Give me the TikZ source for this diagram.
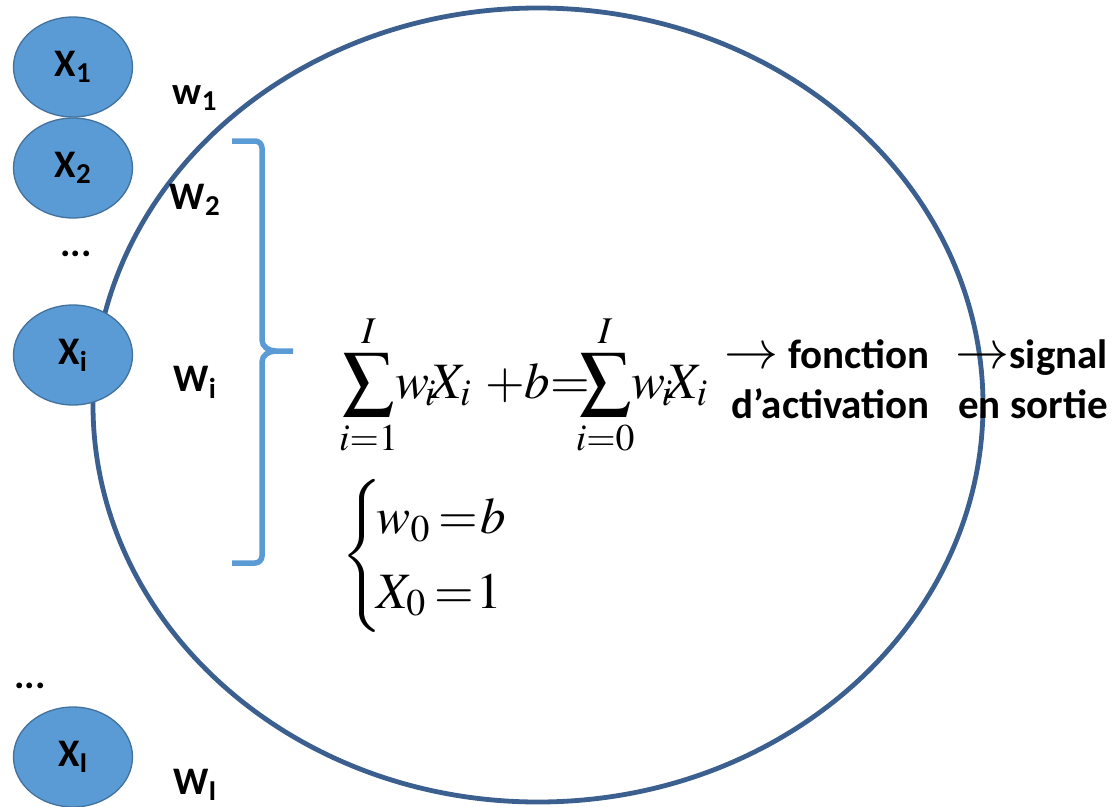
\documentclass[tikz,border=0pt]{standalone}
\usepackage{mathptmx}
\usepackage{amsmath}
\usepackage[no-math]{fontspec}
\setmainfont{Carlito}
\usepackage{tikz}
\usetikzlibrary{positioning, shapes.geometric}
\definecolor{nBody}{HTML}{3B5F8E}
\definecolor{nIn}{HTML}{5B9BD5}
\definecolor{nInLine}{HTML}{41719C}
\newcommand{\bigarr}{{\fontsize{54}{50}\selectfont$\rightarrow$}}

\begin{document}
\begin{tikzpicture}[x=1pt, y=-1pt,
  inbox/.style={ellipse, draw=nInLine, fill=nIn, line width=1.3pt, minimum width=119pt, minimum height=100pt, inner sep=0pt, font=\fontsize{39}{42}\selectfont\bfseries},
  wlab/.style={font=\fontsize{39}{42}\selectfont\bfseries},
  btxt/.style={font=\fontsize{41}{50}\selectfont\bfseries, inner sep=0pt, anchor=base east}]
  \useasboundingbox (0,0) rectangle (1113,806);
  % neuron body
  \node[ellipse, draw=nBody, line width=4.8pt, minimum width=890pt, minimum height=794pt] (body) at (538,405) {};
  % inputs and weights
  \foreach \k/\y in {1/67, 2/168, i/355, I/757} {\node[inbox] (x\k) at (73,\y) {X\textsubscript{\k}};}
  \foreach \k/\y/\lab in {1/98/{w\textsubscript{1}}, 2/200/{W\textsubscript{2}}, i/382/{W\textsubscript{i}}, I/785/{W\textsubscript{I}}} {\node[wlab] (w\k) at (195,\y) {\lab};}
  \node[wlab] (dotsA) at (76,254) {...};
  \node[wlab] (dotsB) at (30,686) {...};
  % brace
  \draw[nIn, line width=5.5pt] (232,141) -- (255,141) to[out=0,in=90] (262,148) -- (262,340)
    to[out=-90,in=180] (276,351) -- (293,351) -- (276,351) to[out=180,in=90] (262,362)
    -- (262,556) to[out=-90,in=0] (255,563) -- (232,563);
  % sums
  \node[anchor=base west, inner sep=0pt, font=\fontsize{51}{60}\selectfont] (sum) at (339,398)
    {$\displaystyle\sum_{i=1}^{I}\mkern-3mu w_{\!i}\mkern-2mu X_i\mkern5mu{+}b{=}\mkern-7mu\sum_{i=0}^{I}\mkern-3mu w_{\!i}\mkern-2mu X_i$};
  \node[anchor=west, inner sep=0pt, font=\fontsize{51}{62}\selectfont] (cond) at (341,556)
    {$\begin{cases}\mkern-2mu w_0\mkern3mu{=}\mkern1mu b\\ \mkern-2mu X_0\mkern3mu{=}\mkern1mu 1\end{cases}$};
  % output texts
  \node[btxt] (act) at (930,368) {\bigarr\ fonction};
  \node[btxt] (actb) at (930,418) {d’activation};
  \node[btxt] (out) at (1108,368) {\bigarr signal};
  \node[btxt] (outb) at (1108,418) {en sortie};
\end{tikzpicture}
\end{document}
